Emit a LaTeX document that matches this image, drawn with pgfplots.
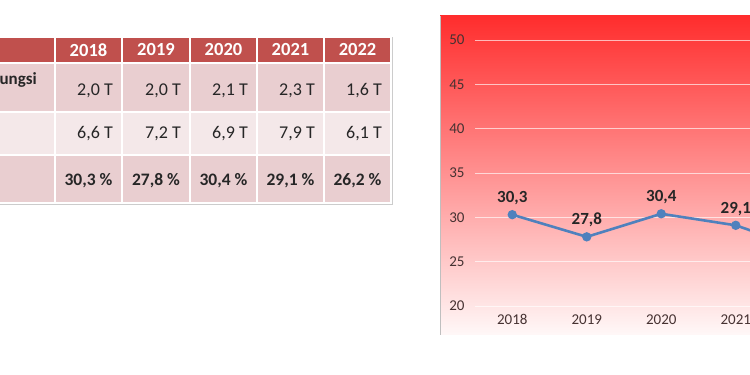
\documentclass[border=0pt]{standalone}
\usepackage{pgfplots}
\pgfplotsset{compat=1.18}
\usepackage{fontspec}
\setmainfont{Carlito}
\definecolor{hdr}{RGB}{192,80,77}
\definecolor{rowa}{RGB}{233,206,208}
\definecolor{rowb}{RGB}{244,232,233}
\definecolor{linec}{RGB}{79,129,189}
\definecolor{tick}{RGB}{70,50,50}
\begin{document}
\begin{tikzpicture}
\useasboundingbox (0pt,0pt) rectangle (750pt,375pt);
\clip (0pt,0pt) rectangle (750pt,375pt);
\fill[white] (0pt,0pt) rectangle (750pt,375pt);
% ---------- table ----------
\begin{scope}[x=1pt,y=1pt]
\foreach \a/\b in {-5/55,55/122,122/190,190/257,257/324,324/391}{
  \fill[hdr,draw=white,line width=1.2pt] (\a,338) rectangle (\b,312);
  \fill[rowa,draw=white,line width=1.2pt] (\a,312) rectangle (\b,263);
  \fill[rowb,draw=white,line width=1.2pt] (\a,263) rectangle (\b,220);
  \fill[rowa,draw=white,line width=1.2pt] (\a,220) rectangle (\b,172);
}
\draw[black!20,line width=0.6pt] (-5,170.5) -- (392.5,170.5) -- (392.5,338);
\foreach \c/\yr in {88.5/2018,156/2019,223.5/2020,290.5/2021,357.5/2022}{
  \node[text=white,font=\fontsize{18.5}{20}\selectfont\bfseries] at (\c,325) {\yr};
}
\foreach \r/\v in {113/{2,0 T},181/{2,0 T},248/{2,1 T},315/{2,3 T},382/{1,6 T}}{
  \node[anchor=east,inner sep=0pt,text=black!85,font=\fontsize{18}{20}\selectfont] at (\r,284) {\v};
}
\foreach \r/\v in {113/{6,6 T},181/{7,2 T},248/{6,9 T},315/{7,9 T},382/{6,1 T}}{
  \node[anchor=east,inner sep=0pt,text=black!85,font=\fontsize{18}{20}\selectfont] at (\r,241) {\v};
}
\foreach \c/\v in {88.5/{30,3 \%},156/{27,8 \%},223.5/{30,4 \%},290.5/{29,1 \%},357.5/{26,2 \%}}{
  \node[text=black!85,font=\fontsize{17.5}{20}\selectfont\bfseries] at (\c,194) {\v};
}
\node[anchor=east,inner sep=0pt,text=black!85,font=\fontsize{17}{20}\selectfont\bfseries] at (37,295) {Fungsi};
% ---------- chart panel ----------
\shade[top color={rgb,255:red,255;green,45;blue,45}, middle color={rgb,255:red,250;green,130;blue,130}, bottom color={rgb,255:red,255;green,248;blue,248}] (440,359) rectangle (760,40);
\draw[black!25,line width=0.6pt] (440,359) -- (440,40);
\end{scope}
\begin{axis}[
  at={(475pt,69pt)}, anchor=south west, scale only axis,
  width=372.5pt, height=266pt,
  xmin=-0.5, xmax=4.5, ymin=20, ymax=50,
  xtick={0,1,2,3,4}, xticklabels={2018,2019,2020,2021,2022},
  ytick={20,25,30,35,40,45,50},
  axis line style={draw=none},
  major tick length=0pt,
  ymajorgrids, grid style={white, opacity=0.65, line width=1pt},
  ticklabel style={font=\fontsize{15}{17}\selectfont, text=tick},
  yticklabel style={xshift=-7pt},
  xticklabel style={yshift=-5pt},
  /pgf/number format/assume math mode=true,
  clip=false,
]
\addplot[color=linec, line width=2.6pt, mark=*, mark size=3.3pt,
  nodes near coords, point meta=explicit symbolic,
  every node near coord/.style={font=\fontsize{17}{19}\selectfont\bfseries, text=black!85, anchor=south, yshift=5pt}]
  table[meta=lab] {
x y lab
0 30.3 {30,3}
1 27.8 {27,8}
2 30.4 {30,4}
3 29.1 {29,1}
4 26.2 {26,2}
};
\end{axis}
\end{tikzpicture}
\end{document}
